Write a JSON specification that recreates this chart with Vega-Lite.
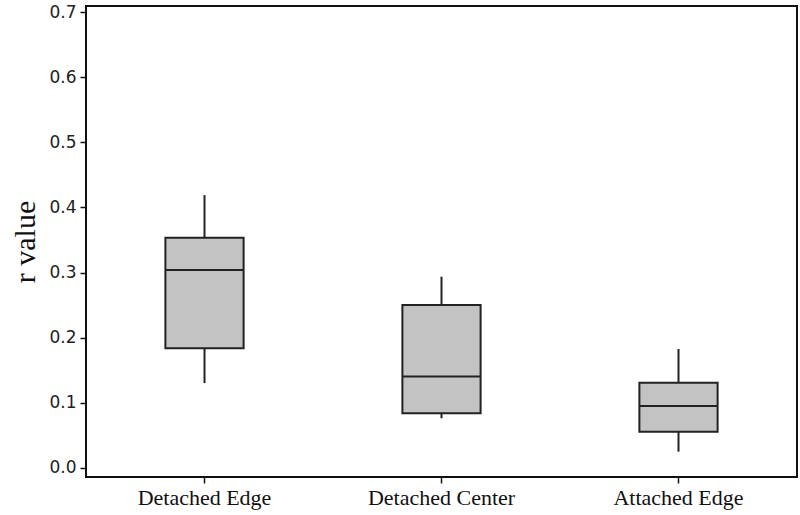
{
  "$schema": "https://vega.github.io/schema/vega-lite/v6.json",
  "width": 711,
  "height": 471,
  "autosize": "none",
  "padding": {"left": 86, "top": 6, "right": 3, "bottom": 38},
  "background": "white",
  "config": {
    "view": {"stroke": "#111", "strokeWidth": 2},
    "axis": {"grid": false, "domain": false, "tickColor": "#111", "tickWidth": 1.5, "tickSize": 6}
  },
  "data": {
    "values": [
      {"group": "Detached Edge", "lower": 0.130, "q1": 0.1835, "median": 0.304, "q3": 0.3535, "upper": 0.419},
      {"group": "Detached Center", "lower": 0.076, "q1": 0.0836, "median": 0.140, "q3": 0.250, "upper": 0.2936},
      {"group": "Attached Edge", "lower": 0.0246, "q1": 0.0553, "median": 0.0948, "q3": 0.1307, "upper": 0.1825}
    ]
  },
  "encoding": {
    "x": {
      "field": "group",
      "type": "nominal",
      "sort": ["Detached Edge", "Detached Center", "Attached Edge"],
      "scale": {"paddingInner": 0.67, "paddingOuter": 0.335},
      "axis": {
        "title": null,
        "labelAngle": 0,
        "labelFont": "Liberation Serif",
        "labelFontSize": 22,
        "labelColor": "#111",
        "labelPadding": 4
      }
    }
  },
  "layer": [
    {
      "mark": {"type": "rule", "color": "#222", "strokeWidth": 2},
      "encoding": {
        "y": {
          "field": "lower",
          "type": "quantitative",
          "scale": {"domain": [-0.0143, 0.7097], "nice": false, "zero": false},
          "axis": {
            "values": [0, 0.1, 0.2, 0.3, 0.4, 0.5, 0.6, 0.7],
            "format": ".1f",
            "title": "r value",
            "titleFont": "Liberation Serif",
            "titleFontSize": 30,
            "titleFontWeight": "normal",
            "titleColor": "#111",
            "titlePadding": 8,
            "labelFont": "DejaVu Sans",
            "labelFontSize": 17,
            "labelColor": "#222",
            "labelPadding": 4
          }
        },
        "y2": {"field": "upper"}
      }
    },
    {
      "mark": {"type": "bar", "fill": "#c3c3c3", "stroke": "#222", "strokeWidth": 2},
      "encoding": {
        "y": {"field": "q1", "type": "quantitative"},
        "y2": {"field": "q3"}
      }
    },
    {
      "mark": {"type": "tick", "color": "#222", "opacity": 1, "size": 78, "thickness": 2},
      "encoding": {
        "y": {"field": "median", "type": "quantitative"}
      }
    }
  ]
}
